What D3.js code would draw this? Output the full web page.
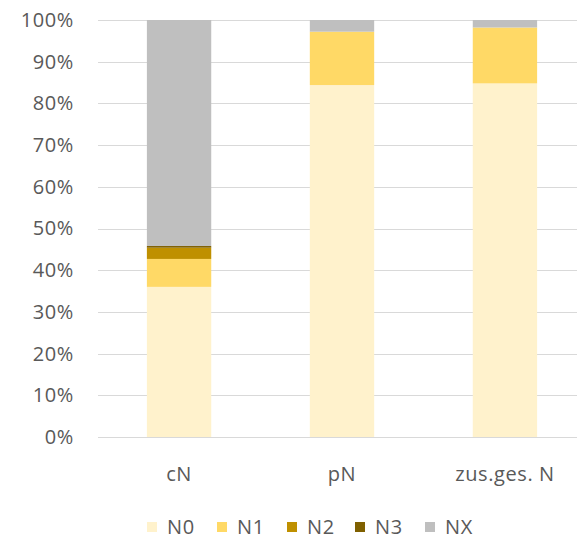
<!DOCTYPE html>
<html>
<head>
<meta charset="utf-8">
<script src="https://cdn.jsdelivr.net/npm/d3@7"></script>
<style>
  html, body { margin: 0; padding: 0; background: #fff; }
  svg { display: block; }
  text { font-family: "Open Sans", "Noto Sans", sans-serif; fill: #595959; }
</style>
</head>
<body>
<svg id="chart" width="577" height="539"></svg>
<script>
// Categories and stacked shares (percent) per N stage
const categories = ["cN", "pN", "zus.ges. N"];
const seriesNames = ["N0", "N1", "N2", "N3", "NX"];
const N0 = [36.0, 84.4, 84.8];
const N1 = [6.7, 12.8, 13.4];
const N2 = [2.7, 0.0, 0.0];
const N3 = [0.4, 0.0, 0.0];
const NX = [54.2, 2.8, 1.8];
const yTicks = [0, 10, 20, 30, 40, 50, 60, 70, 80, 90, 100];
const colors = ["#FFF2CC", "#FFD966", "#BF9000", "#7F6000", "#BFBFBF"];

const rows = categories.map((c, i) => ({
  cat: c, N0: N0[i], N1: N1[i], N2: N2[i], N3: N3[i], NX: NX[i]
}));

const svg = d3.select("#chart");
const labelFont = sel => sel
  .style("font-size", "20px")
  .style("letter-spacing", "0.6px")
  .style("font-family", "\"Open Sans\", sans-serif")
  .attr("fill", "#595959");

const x = d3.scaleBand().domain(categories).range([98, 586]).paddingInner(0.605).paddingOuter(0.3);
const y = d3.scaleLinear().domain([0, 100]).range([437, 20]);

// Gridlines
svg.append("g")
  .selectAll("line")
  .data(yTicks)
  .join("line")
  .attr("x1", 98).attr("x2", 586)
  .attr("y1", d => Math.round(y(d)) + 0.5).attr("y2", d => Math.round(y(d)) + 0.5)
  .attr("stroke", "#d9d9d9").attr("stroke-width", 1);

// Y axis labels
const yAxis = d3.axisLeft(y).tickValues(yTicks).tickFormat(d => d + "%").tickSize(0).tickPadding(0);
const gy = svg.append("g").attr("transform", "translate(74,0)").call(yAxis);
gy.select(".domain").remove();
gy.selectAll("text").call(labelFont);

// Stacked bars
const stack = d3.stack().keys(seriesNames);
const layers = stack(rows);
svg.append("g")
  .selectAll("g")
  .data(layers)
  .join("g")
  .attr("fill", (d, i) => colors[i])
  .selectAll("rect")
  .data(d => d)
  .join("rect")
  .attr("x", d => x(d.data.cat))
  .attr("width", x.bandwidth())
  .attr("y", d => y(d[1]))
  .attr("height", d => Math.max(0, y(d[0]) - y(d[1])));

// X axis labels
const xAxis = d3.axisBottom(x).tickSize(0).tickPadding(0);
const gx = svg.append("g").attr("transform", "translate(0,467)").call(xAxis);
gx.select(".domain").remove();
gx.selectAll("text").call(labelFont);

// Legend
const legendX = [147, 217, 287, 355, 425];
const lg = svg.append("g").selectAll("g")
  .data(seriesNames)
  .join("g")
  .attr("transform", (d, i) => `translate(${legendX[i]},527)`);
lg.append("rect").attr("x", 0).attr("y", -5).attr("width", 10).attr("height", 10)
  .attr("fill", (d, i) => colors[i]);
lg.append("text").attr("x", 20).attr("y", 0).attr("dy", "0.36em")
  .call(labelFont).text(d => d);
</script>
</body>
</html>
